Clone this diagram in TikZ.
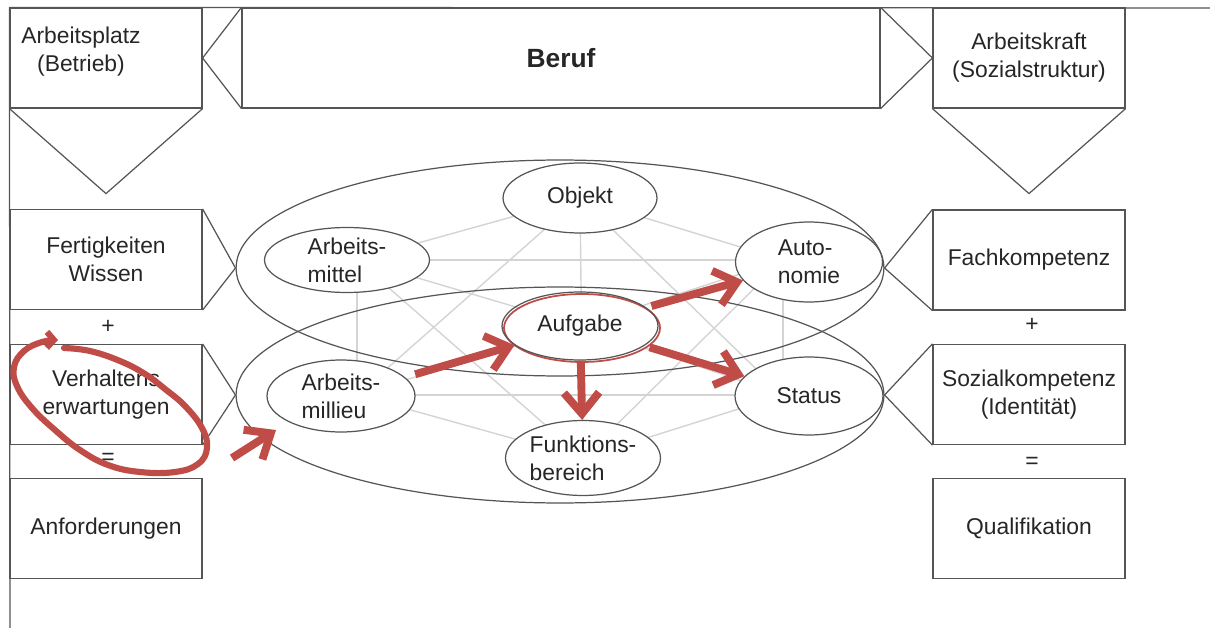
\documentclass[tikz,border=0pt]{standalone}
\usepackage{fontspec}
\setmainfont{Liberation Sans}
\usetikzlibrary{shapes.geometric,arrows.meta}
\begin{document}
\begin{tikzpicture}[x=.02cm,y=-.02cm,font=\fontsize{13}{16}\selectfont,text=black!85,
  box/.style={draw=boxgray,line width=.7pt,minimum width=3.84cm,minimum height=2cm,inner sep=0pt,align=center},
  ring/.style={draw=boxgray,line width=.7pt,ellipse,minimum width=12.96cm,minimum height=4.32cm,inner sep=0pt},
  item/.style={draw=boxgray,line width=.7pt,fill=white,ellipse,inner sep=0pt,align=left},
  web/.style={webgray,line width=.8pt},
  frame/.style={boxgray,line width=.7pt},
  pointer/.style={draw=markred,line width=4.5pt,-{Straight Barb[length=12pt,width=20pt]}}]
\definecolor{boxgray}{RGB}{85,85,85}
\definecolor{webgray}{RGB}{212,212,212}
\definecolor{markred}{RGB}{192,76,72}
\useasboundingbox (0,0) rectangle (1210,628);
\coordinate (w-obj) at (580,198);
\coordinate (w-mittel) at (357,260);
\coordinate (w-auton) at (783,260);
\coordinate (w-milieu) at (357,395);
\coordinate (w-status) at (783,395);
\coordinate (w-funk) at (583,458);
\coordinate (w-aufg) at (580,326);
\foreach \a/\b in {obj/mittel,obj/auton,mittel/milieu,auton/status,milieu/funk,status/funk,
  mittel/auton,milieu/status,obj/milieu,obj/status,mittel/funk,auton/funk,obj/funk,
  aufg/mittel,aufg/auton,aufg/milieu,aufg/status}
  \draw[web] (w-\a) -- (w-\b);
\node[box] (platz) at (106,58) {};
\node[align=center] (platz-t) at (81,52) {Arbeitsplatz\\(Betrieb)};
\node[box,minimum width=12.76cm] (beruf) at (561,58) {\fontsize{15}{18}\selectfont\bfseries Beruf};
\node[box] (kraft) at (1029,58) {Arbeitskraft\\(Sozialstruktur)};
\draw[frame] (platz.north west) -- (1210,8);
\draw[frame] (platz.north west) -- (10,628);
\draw[frame] (beruf.north west) -- (platz.east) -- (beruf.south west);
\draw[frame] (beruf.north east) -- (kraft.west) -- (beruf.south east);
\draw[frame] (platz.south west) -- ([yshift=-1.7cm]platz.south) -- (platz.south east);
\draw[frame] (kraft.south west) -- ([yshift=-1.7cm]kraft.south) -- (kraft.south east);
\node[ring] (upring) at (560,268) {};
\node[ring] (lowring) at (560,395) {};
\node[box] (fert) at (106,259.5) {Fertigkeiten\\Wissen};
\node (plus-l) at (108,327) {+};
\node[box] (verh) at (106,394.5) {Verhaltens\\erwartungen};
\node (eq-l) at (108,459) {=};
\node[box] (anf) at (106,528.5) {Anforderungen};
\node[box] (fach) at (1029,260) {Fachkompetenz};
\node (plus-r) at (1032,325) {+};
\node[box] (sozial) at (1029,394.5) {Sozialkompetenz\\(Identität)};
\node (eq-r) at (1032,463) {=};
\node[box] (qual) at (1029,528.5) {Qualifikation};
\draw[frame] (fert.north east) -- (upring.west) -- (fert.south east);
\draw[frame] (verh.north east) -- (lowring.west) -- (verh.south east);
\draw[frame] (fach.north west) -- (upring.east) -- (fach.south west);
\draw[frame] (sozial.north west) -- (lowring.east) -- (sozial.south west);
\node[item,minimum width=3.08cm,minimum height=1.4cm] (obj) at (580,198) {Objekt};
\node[item,minimum width=3.3cm,minimum height=1.3cm] (mittel) at (347,260) {Arbeits-\\mittel};
\node[item,minimum width=2.94cm,minimum height=1.6cm] (auton) at (809,262) {Auto-\\nomie};
\node[ellipse,draw=markred,fill=white,line width=1pt,minimum width=3.12cm,minimum height=1.36cm,inner sep=0pt] (aufg-r) at (582,328) {};
\node[item,minimum width=3.12cm,minimum height=1.36cm,fill=none] (aufg) at (580,326) {Aufgabe};
\node[item,minimum width=2.96cm,minimum height=1.44cm] (milieu) at (341,396) {Arbeits-\\millieu};
\node[item,minimum width=2.96cm,minimum height=1.56cm] (status) at (809,396) {Status};
\node[item,minimum width=3.1cm,minimum height=1.5cm] (funk) at (583,458) {Funktions-\\bereich};
\draw[pointer,shorten <=6pt] (milieu) -- (aufg);
\draw[pointer,shorten <=3pt] (aufg) -- (auton);
\draw[pointer,shorten <=3pt] (aufg) -- (status);
\draw[pointer] (aufg) -- (funk);
\coordinate (p-start) at (232,458);
\coordinate (p-end) at (276,430);
\draw[pointer] (p-start) -- (p-end);
\draw[markred,line width=3.5pt,line cap=round,-{Straight Barb[length=4pt,width=9pt]}]
  plot[smooth,tension=.7] coordinates {(64,348) (90,351) (120,361) (145,374) (165,389) (185,406)
  (202,428) (207,448) (198,464) (175,472) (140,472) (108,465) (80,450) (55,430) (32,408)
  (17,386) (14,367) (24,351) (42,342) (58,340)};
\end{tikzpicture}
\end{document}
